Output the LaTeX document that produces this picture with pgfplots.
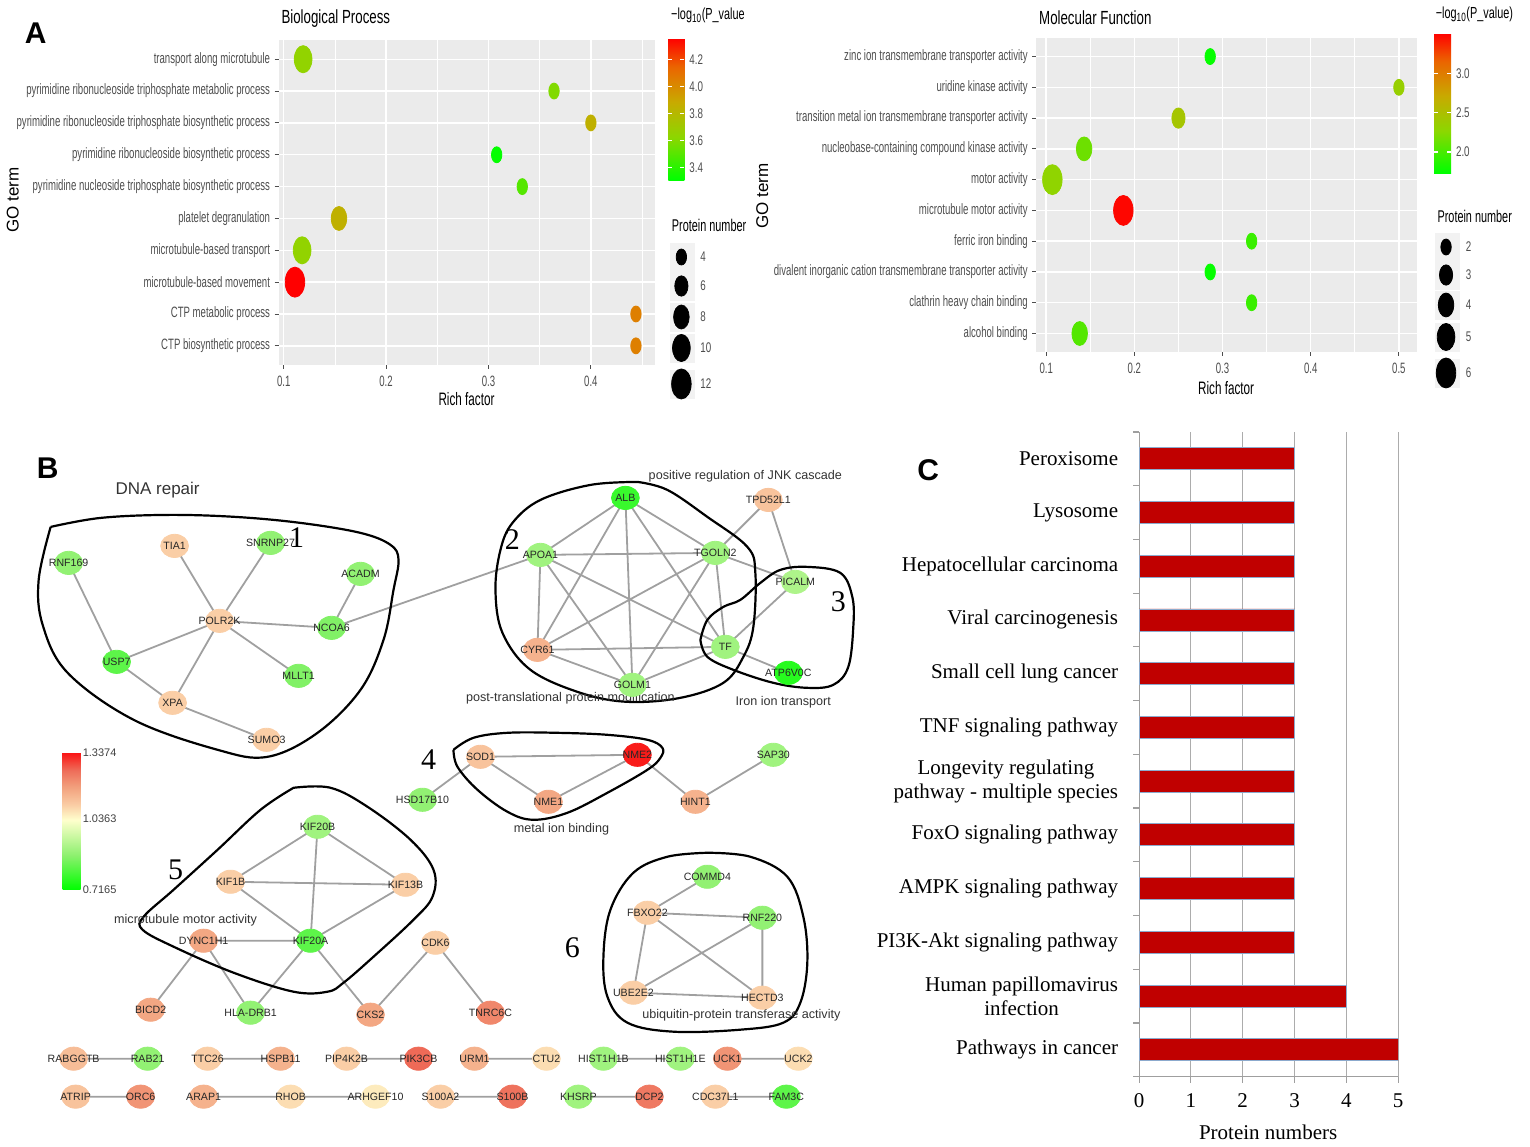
\documentclass[border=0pt]{standalone}
\usepackage{pgfplots}
\usepackage{pgfplotstable}
\pgfplotsset{compat=1.18}
\usepackage{fontspec}
\setmainfont{Liberation Sans}
\newfontfamily\tnr{Liberation Serif}
\pgfkeys{/pgf/number format/assume math mode=true}

\definecolor{ggbg}{RGB}{235,235,235}
\definecolor{ggtxt}{RGB}{77,77,77}
\definecolor{barred}{RGB}{192,0,0}
\definecolor{baredge}{RGB}{140,170,205}
\definecolor{edgegray}{RGB}{160,160,160}
\newcommand\fs[1]{\fontsize{#1}{#1}\selectfont}

\pgfplotsset{
  colormap={ggA}{rgb255(0cm)=(0,255,0); rgb255(3cm)=(140,215,0); rgb255(5.5cm)=(200,170,0); rgb255(8cm)=(235,100,0); rgb255(10cm)=(255,0,0)},
  colormap={netB}{rgb255(0cm)=(0,255,0); rgb255(25cm)=(140,240,110); rgb255(51cm)=(255,255,205); rgb255(62cm)=(250,205,165); rgb255(75cm)=(242,160,125); rgb255(87cm)=(238,110,90); rgb255(100cm)=(250,20,20)},
  ggpanel/.style={
    scale only axis, anchor=south west, clip=false,
    axis background/.style={fill=ggbg}, axis line style={draw=none},
    xmajorgrids, xminorgrids, ymajorgrids,
    major grid style={white, line width=0.7pt},
    minor grid style={white, line width=0.35pt},
    tick pos=left, tick align=outside, major tick length=2pt, minor tick length=0pt,
    tick style={ggtxt, line width=0.5pt},
    ymin=0.4, ymax=10.6, ytick={1,...,10},
    yticklabel style={font=\fs{7.5}, text=ggtxt, xscale=0.64},
    xticklabel style={font=\fs{7.5}, text=ggtxt, xscale=0.64,
      /pgf/number format/fixed, /pgf/number format/precision=1},
    colormap name=ggA, colorbar,
  },
  ggcbar/.style={
    at={(parent axis.north east)}, anchor=north west,
    axis line style={draw=none}, tick style={white, line width=0.6pt},
    major tick length=2pt, tick align=inside, ytick pos=both, yticklabel pos=right,
    yticklabel style={font=\fs{7}, text=ggtxt, xscale=0.7,
      /pgf/number format/fixed, /pgf/number format/fixed zerofill,
      /pgf/number format/precision=1},
  },
  bubble/.style={scatter, only marks, mark=*, point meta=explicit,
    scatter/use mapped color={draw=mapped color, fill=mapped color},
    every mark/.append style={xscale=0.65}},
}

% Biological Process: row, rich factor, -log10(p), protein number
\pgfplotstableread{
row rf p n
10 0.119 3.65 10
9 0.364 3.60 4
8 0.400 3.85 4
7 0.308 3.32 4
6 0.333 3.50 4
5 0.154 3.85 8
4 0.118 3.65 10
3 0.111 4.36 12
2 0.444 4.05 4
1 0.444 4.05 4
}\bpdata

% Molecular Function
\pgfplotstableread{
row rf p n
10 0.286 1.75 2
9 0.500 2.35 2
8 0.250 2.45 3
7 0.143 2.15 4
6 0.107 2.30 6
5 0.1875 3.50 6
4 0.333 1.95 2
3 0.286 1.75 2
2 0.333 1.95 2
1 0.138 2.05 4
}\mfdata

% network nodes (pixel positions, value)
\pgfplotstableread{
label x y v
RNF169 68 563 0.88
TIA1 174 546 1.10
SNRNP27 270 543 0.88
ACADM 360 574 0.88
POLR2K 219 621 1.10
NCOA6 331 628 0.86
USP7 116 662 0.82
MLLT1 298 676 0.86
XPA 172 703 1.10
SUMO3 266 740 1.10
ALB 625 498 0.78
TPD52L1 768 500 1.12
APOA1 540 555 0.90
TGOLN2 715 553 0.90
PICALM 795 582 0.92
CYR61 537 650 1.15
TF 725 647 0.90
ATP6V0C 788 673 0.76
GOLM1 632 685 0.90
SOD1 480 757 1.12
NME2 637 755 1.33
NME1 548 802 1.17
HINT1 695 802 1.15
SAP30 773 755 0.90
HSD17B10 422 800 0.88
KIF20B 317 827 0.90
KIF1B 230 882 1.10
KIF13B 405 885 1.10
KIF20A 310 941 0.82
DYNC1H1 203 941 1.17
BICD2 150 1010 1.17
HLA-DRB1 250 1013 0.88
CKS2 370 1015 1.17
CDK6 435 943 1.10
TNRC6C 490 1013 1.22
COMMD4 707 877 0.88
FBXO22 647 913 1.10
RNF220 762 918 0.88
UBE2E2 633 993 1.10
HECTD3 762 998 1.10
RABGGTB 73 1059 1.13
RAB21 147 1059 0.88
TTC26 207 1059 1.10
HSPB11 280 1059 1.15
PIP4K2B 346 1059 1.10
PIK3CB 418 1059 1.26
URM1 474 1059 1.15
CTU2 546 1059 1.08
HIST1H1B 603 1059 0.90
HIST1H1E 680 1059 0.90
UCK1 727 1059 1.20
UCK2 798 1059 1.08
ATRIP 75 1097 1.12
ORC6 140 1097 1.20
ARAP1 203 1097 1.15
RHOB 290 1097 1.08
ARHGEF10 375 1097 1.06
S100A2 440 1097 1.10
S100B 512 1097 1.25
KHSRP 578 1097 0.90
DCP2 649 1097 1.24
CDC37L1 715 1097 1.10
FAM3C 786 1097 0.82
}\netnodes

\begin{document}
\begin{tikzpicture}

% ---------- canvas: panel B network and all free text ----------
\begin{axis}[name=canvas, at={(0pt,0pt)}, anchor=south west,
  scale only axis, width=765pt, height=573pt,
  xmin=0, xmax=1530, ymin=0, ymax=1146, y dir=reverse,
  hide axis, clip=false,
  colormap name=netB, point meta min=0.7165, point meta max=1.3374,
  colorbar,
  colorbar style={at={(parent axis.south west)}, anchor=north west,
    xshift=22.5pt, yshift=196.5pt, width=9pt, height=68.5pt,
    ytick={0.7165,1.0363,1.3374}, yticklabels={0.7165,1.0363,1.3374},
    major tick length=0pt, axis line style={draw=none},
    yticklabel style={font=\fs{5.5}, text=black!75, xshift=-2.5pt}},
]
\addplot[draw=none, forget plot] coordinates {(0,0) (1530,1146)};

% edges
\addplot[edgegray, line width=0.9pt, unbounded coords=jump, forget plot] coordinates {
(68,563) (116,662) (nan,nan) (174,546) (219,621) (nan,nan)
(270,543) (219,621) (nan,nan) (360,574) (331,628) (nan,nan)
(219,621) (331,628) (nan,nan) (219,621) (116,662) (nan,nan)
(219,621) (172,703) (nan,nan) (219,621) (298,676) (nan,nan)
(116,662) (172,703) (nan,nan) (172,703) (266,740) (nan,nan)
(331,628) (540,555) (nan,nan)
(625,498) (540,555) (nan,nan) (625,498) (715,553) (nan,nan)
(625,498) (537,650) (nan,nan) (625,498) (725,647) (nan,nan)
(625,498) (632,685) (nan,nan) (540,555) (715,553) (nan,nan)
(540,555) (537,650) (nan,nan) (540,555) (725,647) (nan,nan)
(540,555) (632,685) (nan,nan) (715,553) (537,650) (nan,nan)
(715,553) (725,647) (nan,nan) (715,553) (632,685) (nan,nan)
(537,650) (725,647) (nan,nan) (537,650) (632,685) (nan,nan)
(725,647) (632,685) (nan,nan)
(768,500) (715,553) (nan,nan) (768,500) (795,582) (nan,nan)
(715,553) (795,582) (nan,nan) (795,582) (725,647) (nan,nan)
(725,647) (788,673) (nan,nan)
(480,757) (637,755) (nan,nan) (480,757) (548,802) (nan,nan)
(548,802) (637,755) (nan,nan) (637,755) (695,802) (nan,nan)
(695,802) (773,755) (nan,nan) (480,757) (422,800) (nan,nan)
(317,827) (230,882) (nan,nan) (317,827) (405,885) (nan,nan)
(317,827) (310,941) (nan,nan) (230,882) (405,885) (nan,nan)
(230,882) (310,941) (nan,nan) (405,885) (310,941) (nan,nan)
(203,941) (310,941) (nan,nan) (203,941) (150,1010) (nan,nan)
(203,941) (250,1013) (nan,nan) (310,941) (250,1013) (nan,nan)
(310,941) (370,1015) (nan,nan) (370,1015) (435,943) (nan,nan)
(435,943) (490,1013) (nan,nan)
(707,877) (647,913) (nan,nan) (647,913) (762,918) (nan,nan)
(647,913) (633,993) (nan,nan) (647,913) (762,998) (nan,nan)
(762,918) (633,993) (nan,nan) (762,918) (762,998) (nan,nan)
(633,993) (762,998) (nan,nan)
(73,1059) (147,1059) (nan,nan) (207,1059) (280,1059) (nan,nan)
(346,1059) (418,1059) (nan,nan) (474,1059) (546,1059) (nan,nan)
(603,1059) (680,1059) (nan,nan) (727,1059) (798,1059) (nan,nan)
(75,1097) (140,1097) (nan,nan) (203,1097) (290,1097) (375,1097) (nan,nan)
(440,1097) (512,1097) (nan,nan) (578,1097) (649,1097) (nan,nan)
(715,1097) (786,1097)
};

% nodes, coloured by value
\addplot[scatter, only marks, mark=*, mark size=5.8pt, point meta=explicit,
  scatter/use mapped color={draw=mapped color, fill=mapped color},
  every mark/.append style={xscale=1.2}, forget plot]
  table[x=x, y=y, meta=v] {\netnodes};
% node names
\addplot[only marks, mark=none, point meta=explicit symbolic,
  nodes near coords,
  every node near coord/.append style={anchor=center, font=\fs{5.3}, text=black!85, inner sep=0pt},
  forget plot]
  table[x=x, y=y, meta=label] {\netnodes};

% cluster outlines
\addplot[black, line width=1.1pt, smooth, tension=0.6, forget plot] coordinates {
(50,527) (100,518) (167,515) (235,517) (300,523) (360,533) (390,545) (398,560)
(393,590) (383,640) (360,690) (317,733) (267,757) (217,750) (133,720) (67,673)
(42,625) (38,580) (50,527)};
\addplot[black, line width=1.1pt, smooth, tension=0.6, forget plot] coordinates {
(637,482) (667,490) (707,517) (747,547) (755,573) (753,627) (743,657) (723,683)
(680,698) (627,702) (580,693) (530,670) (502,633) (495,590) (500,550) (512,523)
(540,500) (590,485) (637,482)};
\addplot[black, line width=1.1pt, smooth, tension=0.6, forget plot] coordinates {
(700,640) (707,620) (723,607) (740,600) (760,583) (780,570) (807,567) (840,573)
(852,597) (853,627) (848,667) (833,685) (807,688) (773,683) (733,670) (707,657)
(700,640)};
\addplot[black, line width=1.1pt, smooth, tension=0.6, forget plot] coordinates {
(453,750) (473,738) (507,733) (557,733) (607,735) (647,740) (662,748) (660,758)
(647,770) (607,793) (567,813) (533,820) (507,812) (477,790) (457,767) (453,750)};
\addplot[black, line width=1.1pt, smooth, tension=0.6, forget plot] coordinates {
(293,788) (330,788) (367,807) (410,840) (433,870) (432,897) (413,920) (373,957)
(343,983) (327,992) (293,992) (233,973) (173,947) (142,930) (143,917) (173,890)
(217,850) (260,810) (293,788)};
\addplot[black, line width=1.1pt, smooth, tension=0.6, forget plot] coordinates {
(707,853) (750,857) (787,877) (803,917) (807,963) (800,1003) (783,1023) (740,1030)
(673,1032) (627,1023) (607,997) (603,957) (610,910) (633,873) (667,857) (707,853)};

% size legends of panel A
\addplot[only marks, mark=square*, mark size=7pt, color=black!5,
  every mark/.append style={xscale=0.85}, forget plot] coordinates {
(682,257) (682,286) (682,317) (682,348) (682,384)
(1447,247) (1447,275) (1447,305) (1447,337) (1447,373)};
\addplot[scatter, only marks, mark=*,
  scatter/use mapped color={draw=black, fill=black},
  visualization depends on={2.4*sqrt(\thisrow{n})-0.8 \as \rad},
  scatter/@pre marker code/.append style={/tikz/mark size=\rad},
  every mark/.append style={xscale=0.65}, forget plot]
  table[x=x, y=y] {
x y n
681 257 4
681 286 6
681 317 8
681 348 10
681 384 12
};
\addplot[scatter, only marks, mark=*,
  scatter/use mapped color={draw=black, fill=black},
  visualization depends on={3.38*sqrt(\thisrow{n})-0.78 \as \rad},
  scatter/@pre marker code/.append style={/tikz/mark size=\rad},
  every mark/.append style={xscale=0.65}, forget plot]
  table[x=x, y=y] {
x y n
1446 247 2
1446 275 3
1446 305 4
1446 337 5
1446 373 6
};

% texts
\node[font=\bfseries\fs{15}] at (axis cs:35,33) {A};
\node[font=\bfseries\fs{15}] at (axis cs:47,468) {B};
\node[font=\bfseries\fs{15}] at (axis cs:928,470) {C};

\node[anchor=west, font=\fs{9.5}, xscale=0.7] at (axis cs:276,18) {Biological Process};
\node[anchor=west, font=\fs{9.5}, xscale=0.7] at (axis cs:1034,18) {Molecular Function};
\node[font=\fs{9}, xscale=0.65] at (axis cs:466,399) {Rich factor};
\node[font=\fs{9}, xscale=0.65] at (axis cs:1226,388) {Rich factor};
\node[font=\fs{8.5}, rotate=90] at (axis cs:12,200) {GO term};
\node[font=\fs{8.5}, rotate=90] at (axis cs:762,196) {GO term};
\node[anchor=west, font=\fs{8}, xscale=0.68] at (axis cs:666,15) {−log\textsubscript{10}(P\_value};
\node[anchor=west, font=\fs{8}, xscale=0.68] at (axis cs:1431,14) {−log\textsubscript{10}(P\_value)};
\node[anchor=west, font=\fs{8.5}, xscale=0.64] at (axis cs:667,225) {Protein number};
\node[anchor=west, font=\fs{8.5}, xscale=0.64] at (axis cs:1433,216) {Protein number};
\node[anchor=west, font=\fs{7}, text=ggtxt, xscale=0.7] at (axis cs:695,257) {4};
\node[anchor=west, font=\fs{7}, text=ggtxt, xscale=0.7] at (axis cs:695,286) {6};
\node[anchor=west, font=\fs{7}, text=ggtxt, xscale=0.7] at (axis cs:695,317) {8};
\node[anchor=west, font=\fs{7}, text=ggtxt, xscale=0.7] at (axis cs:695,348) {10};
\node[anchor=west, font=\fs{7}, text=ggtxt, xscale=0.7] at (axis cs:695,384) {12};
\node[anchor=west, font=\fs{7}, text=ggtxt, xscale=0.7] at (axis cs:1461,247) {2};
\node[anchor=west, font=\fs{7}, text=ggtxt, xscale=0.7] at (axis cs:1461,275) {3};
\node[anchor=west, font=\fs{7}, text=ggtxt, xscale=0.7] at (axis cs:1461,305) {4};
\node[anchor=west, font=\fs{7}, text=ggtxt, xscale=0.7] at (axis cs:1461,337) {5};
\node[anchor=west, font=\fs{7}, text=ggtxt, xscale=0.7] at (axis cs:1461,373) {6};

\node[font=\fs{8.5}, text=black!80] at (axis cs:157,490) {DNA repair};
\node[font=\fs{6.3}, text=black!80] at (axis cs:745,476) {positive regulation of JNK cascade};
\node[font=\fs{6.3}, text=black!80] at (axis cs:570,698) {post-translational protein modification};
\node[font=\fs{6.3}, text=black!80] at (axis cs:783,702) {Iron ion transport};
\node[font=\fs{6.3}, text=black!80] at (axis cs:561,829) {metal ion binding};
\node[font=\fs{6.3}, text=black!80] at (axis cs:185,921) {microtubule motor activity};
\node[font=\fs{6.3}, text=black!80] at (axis cs:741,1016) {ubiquitin-protein transferase activity};
\node[font=\tnr\fs{15}] at (axis cs:296,538) {1};
\node[font=\tnr\fs{15}] at (axis cs:512,540) {2};
\node[font=\tnr\fs{15}] at (axis cs:838,602) {3};
\node[font=\tnr\fs{15}] at (axis cs:428,760) {4};
\node[font=\tnr\fs{15}] at (axis cs:175,870) {5};
\node[font=\tnr\fs{15}] at (axis cs:572,948) {6};

\node[font=\tnr\fs{10.5}] at (axis cs:1268,1133) {Protein numbers};
\end{axis}

% ---------- A: Biological Process ----------
\begin{axis}[ggpanel, at={(139pt,390.5pt)}, width=188.5pt, height=162.5pt,
  xmin=0.095, xmax=0.463,
  xtick={0.1,0.2,0.3,0.4}, minor xtick={0.15,0.25,0.35,0.45},
  yticklabels={CTP biosynthetic process, CTP metabolic process,
    microtubule-based movement, microtubule-based transport,
    platelet degranulation,
    pyrimidine nucleoside triphosphate biosynthetic process,
    pyrimidine ribonucleoside biosynthetic process,
    pyrimidine ribonucleoside triphosphate biosynthetic process,
    pyrimidine ribonucleoside triphosphate metabolic process,
    transport along microtubule},
  point meta min=3.31, point meta max=4.36,
  colorbar style={ggcbar, xshift=-2pt, yshift=1pt, width=8pt, height=71pt,
    ytick={3.4,3.6,3.8,4.0,4.2}},
]
\addplot[bubble,
  visualization depends on={2.4*sqrt(\thisrow{n})-0.8 \as \rad},
  scatter/@pre marker code/.append style={/tikz/mark size=\rad}]
  table[x=rf, y=row, meta=p] {\bpdata};
\end{axis}

% ---------- A: Molecular Function ----------
\begin{axis}[ggpanel, at={(518pt,397pt)}, width=190.5pt, height=157pt,
  xmin=0.0887, xmax=0.5206,
  xtick={0.1,0.2,0.3,0.4,0.5}, minor xtick={0.15,0.25,0.35,0.45},
  yticklabels={alcohol binding, clathrin heavy chain binding,
    divalent inorganic cation transmembrane transporter activity,
    ferric iron binding, microtubule motor activity, motor activity,
    nucleobase-containing compound kinase activity,
    transition metal ion transmembrane transporter activity,
    uridine kinase activity, zinc ion transmembrane transporter activity},
  point meta min=1.73, point meta max=3.52,
  colorbar style={ggcbar, xshift=0pt, yshift=2.5pt, width=8.5pt, height=70pt,
    ytick={2.0,2.5,3.0}},
]
\addplot[bubble,
  visualization depends on={3.38*sqrt(\thisrow{n})-0.78 \as \rad},
  scatter/@pre marker code/.append style={/tikz/mark size=\rad}]
  table[x=rf, y=row, meta=p] {\mfdata};
\end{axis}

% ---------- C: KEGG pathways ----------
\begin{axis}[at={(569.5pt,34.5pt)}, anchor=south west, scale only axis,
  width=129.5pt, height=322.5pt,
  xbar, bar width=11pt,
  xmin=0, xmax=5, ymin=-0.5, ymax=11.5,
  axis x line*=bottom, axis y line*=left,
  axis line style={gray!75, line width=0.6pt},
  xtick={0,...,5}, xmajorgrids, major grid style={gray!65, line width=0.5pt},
  ytick={0,...,11}, minor ytick={-0.5,0.5,...,11.5},
  tick align=outside, major tick length=3pt, minor tick length=3pt,
  major y tick style={draw=none}, minor y tick style={gray!75, line width=0.6pt},
  major x tick style={gray!75, line width=0.5pt},
  xticklabel style={font=\tnr\fs{10.5}, yshift=-2pt},
  yticklabel style={font=\tnr\fontsize{10.5}{12}\selectfont, align=center, xshift=-4pt},
  yticklabels={Pathways in cancer, {Human papillomavirus\\infection},
    PI3K-Akt signaling pathway, AMPK signaling pathway,
    FoxO signaling pathway, {Longevity regulating\\pathway - multiple species},
    TNF signaling pathway, Small cell lung cancer, Viral carcinogenesis,
    Hepatocellular carcinoma, Lysosome, Peroxisome},
]
\addplot[fill=barred, draw=baredge, line width=0.4pt] coordinates {
(5,0) (4,1) (3,2) (3,3) (3,4) (3,5) (3,6) (3,7) (3,8) (3,9) (3,10) (3,11)};
\end{axis}

\end{tikzpicture}
\end{document}
